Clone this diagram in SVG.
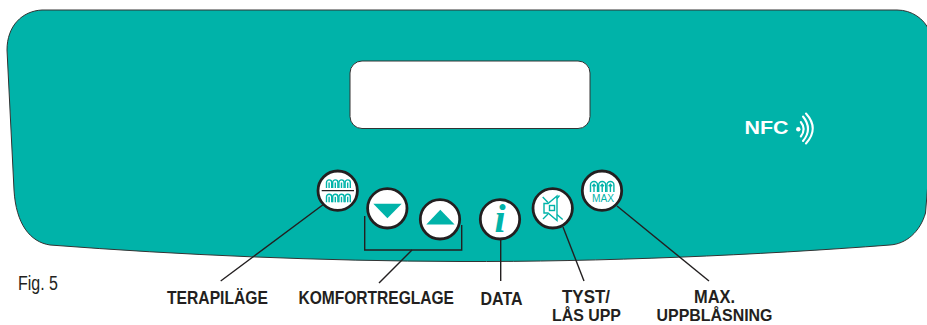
<svg xmlns="http://www.w3.org/2000/svg" width="927" height="325" viewBox="0 0 927 325">
<style>
.lbl{font-family:"Liberation Sans",Arial,sans-serif;font-weight:700;font-size:18px;fill:#231f20}
.lbl2{font-size:17px}
.btn{fill:#fff;stroke:#231f20;stroke-width:2.8}
.ln{fill:none;stroke:#231f20;stroke-width:1.4}
.ic{fill:none;stroke:#00b3a9;stroke-width:1.4}
.tl{fill:#00b3a9}
</style>
<defs>
<g id="arch"><path class="ic" d="M0 8.500V3A2.600 2.600 0 0 1 5.200 3V8.500"/><path class="ic" d="M2.600 8.500V3"/></g>
<g id="archrow"><use href="#arch"/><use href="#arch" x="6.200"/><use href="#arch" x="12.400"/><use href="#arch" x="18.600"/></g>
<g id="bigarch"><path class="ic" d="M0 10.500V3.500A3.500 3.500 0 0 1 7 3.500V10.500" stroke-width="1.800"/><path class="ic" d="M3.500 10.500V3M1.800 4.800L3.500 2.800L5.200 4.800" stroke-width="1.400"/></g>
</defs>
<g id="panel">
<path d="M42 10H897C912 10 924 19 929 30V170L925.500 213C920 232 906 244 890 245C760 255 600 262 460 261.500C320 261 180 255 50 245C30 242 16 224 14 190L7 50C7 26 22 11 42 10Z" fill="#00b3a9" stroke="#333" stroke-width="1"/>
</g>
<g id="display">
<rect x="350" y="61" width="240" height="67.500" rx="12" fill="#fff" stroke="#333" stroke-width="1"/>
</g>
<g id="nfc">
<text x="744.500" y="134" font-family="Liberation Sans,Arial,sans-serif" font-weight="700" font-size="18" fill="#fff" textLength="44" lengthAdjust="spacingAndGlyphs">NFC</text>
<circle cx="798.300" cy="129.300" r="2.200" fill="#fff"/>
<path d="M800.800 122Q806.500 129 800.800 136.500M803 116.500Q813 129 803 141M806 113.500Q819.500 128.500 806 143.500" fill="none" stroke="#fff" stroke-width="2.100" stroke-linecap="round"/>
</g>
<g id="connectors">
<path class="ln" d="M324 204L220.700 281"/>
<path class="ln" d="M364.700 216V250H461.700V225"/>
<path class="ln" d="M412 250L379 283"/>
<path class="ln" d="M500.700 238V281"/>
<path class="ln" d="M563 227L584 281"/>
<path class="ln" d="M617 206L709 281"/>
</g>
<g id="btn-terapi">
<circle class="btn" cx="337.700" cy="190.700" r="19.700"/>
<use href="#archrow" x="326.500" y="179.500"/>
<path d="M321.700 190.700H354" stroke="#231f20" stroke-width="1.300"/>
<use href="#archrow" x="326.500" y="193.800"/>
</g>
<g id="btn-down">
<circle class="btn" cx="387.300" cy="208.300" r="19.700"/>
<path class="tl" d="M373.300 203.700H401.700L387.400 218.300Z"/>
</g>
<g id="btn-up">
<circle class="btn" cx="440" cy="219.300" r="19.700"/>
<path class="tl" d="M426.300 224.600H454.600L440.300 209.800Z"/>
</g>
<g id="btn-info">
<circle class="btn" cx="500" cy="219.300" r="19.700"/>
<text x="500" y="231.500" text-anchor="middle" font-family="Liberation Serif,Times New Roman,serif" font-style="italic" font-weight="700" font-size="40" fill="#00b3a9">i</text>
</g>
<g id="btn-mute">
<circle class="btn" cx="552.700" cy="208.300" r="19.700"/>
<path class="ic" d="M544 203.500H548L557 196V220.500L548 213H544Z"/>
<rect class="ic" x="549.500" y="205.500" width="5" height="5"/>
<path class="ic" d="M542.700 197L548 202.500M559.500 195.500L557 198.500M543 219L548 214M557 214.500L562.700 219.500"/>
</g>
<g id="btn-max">
<circle class="btn" cx="602" cy="190.700" r="19.700"/>
<use href="#bigarch" x="590.500" y="181.500"/>
<use href="#bigarch" x="598.700" y="181.500"/>
<use href="#bigarch" x="606.900" y="181.500"/>
<text x="603" y="201.800" text-anchor="middle" font-family="Liberation Sans,Arial,sans-serif" font-size="10" fill="#00b3a9" textLength="22" lengthAdjust="spacingAndGlyphs">MAX</text>
</g>
<g id="labels">
<text x="18" y="290" font-family="Liberation Sans,Arial,sans-serif" font-size="20" fill="#231f20" textLength="40" lengthAdjust="spacingAndGlyphs">Fig. 5</text>
<text class="lbl" x="167" y="304" textLength="101" lengthAdjust="spacingAndGlyphs">TERAPILÄGE</text>
<text class="lbl" x="298.500" y="304" textLength="155.500" lengthAdjust="spacingAndGlyphs">KOMFORTREGLAGE</text>
<text class="lbl" x="480.500" y="304.500" textLength="42" lengthAdjust="spacingAndGlyphs">DATA</text>
<text class="lbl" x="562" y="303" textLength="48" lengthAdjust="spacingAndGlyphs">TYST/</text>
<text class="lbl lbl2" x="552" y="321.300" textLength="69" lengthAdjust="spacingAndGlyphs">LÅS UPP</text>
<text class="lbl" x="694" y="303" textLength="41" lengthAdjust="spacingAndGlyphs">MAX.</text>
<text class="lbl lbl2" x="656.500" y="321.300" textLength="116" lengthAdjust="spacingAndGlyphs">UPPBLÅSNING</text>
</g>
</svg>
